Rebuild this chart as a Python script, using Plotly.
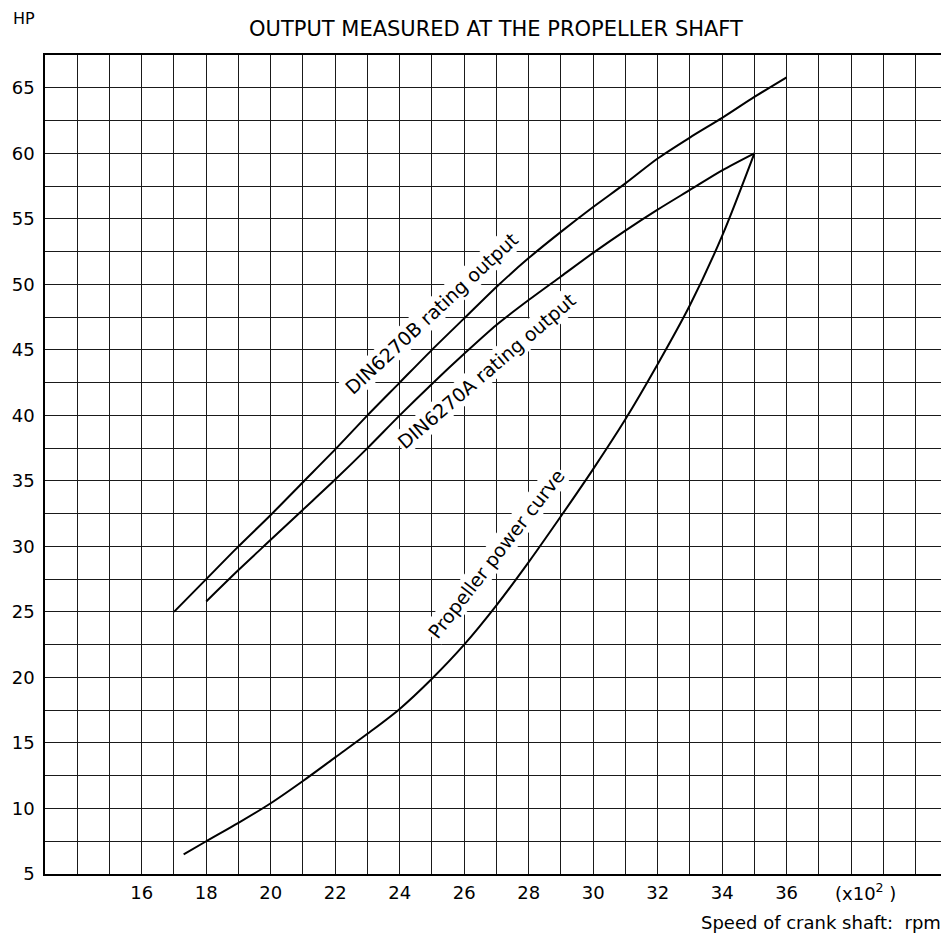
import plotly.graph_objects as go

# ---- data ----
din_b_rpm = [17, 18, 19, 20, 21, 22, 23, 24, 25, 26, 27, 28, 29, 30, 31, 32, 33, 34, 35, 36]
din_b_hp = [25.0, 27.5, 30.0, 32.4, 34.9, 37.4, 40.0, 42.5, 45.0, 47.4, 49.8, 52.0, 54.0, 55.9, 57.7, 59.6, 61.2, 62.7, 64.3, 65.8]

din_a_rpm = [18, 19, 20, 21, 22, 23, 24, 25, 26, 27, 28, 29, 30, 31, 32, 33, 34, 35]
din_a_hp = [25.8, 28.2, 30.5, 32.8, 35.1, 37.5, 40.0, 42.4, 44.7, 46.9, 48.8, 50.6, 52.4, 54.1, 55.7, 57.2, 58.7, 60.0]

prop_rpm = [17.3, 18, 19, 20, 21, 22, 23, 24, 25, 26, 27, 28, 29, 30, 31, 32, 33, 34, 35]
prop_hp = [6.5, 7.5, 8.9, 10.4, 12.1, 13.9, 15.7, 17.6, 19.9, 22.5, 25.5, 28.8, 32.3, 35.9, 39.7, 43.9, 48.4, 53.7, 60.0]

x_tick_labels = [16, 18, 20, 22, 24, 26, 28, 30, 32, 34, 36]
y_tick_labels = [5, 10, 15, 20, 25, 30, 35, 40, 45, 50, 55, 60, 65]

title_text = "OUTPUT MEASURED AT THE PROPELLER SHAFT"
label_b = "DIN6270B rating output"
label_a = "DIN6270A rating output"
label_prop = "Propeller power curve"

FONT = "DejaVu Sans"
GRID = "#1a1a1a"

fig = go.Figure()
for xs, ys in [(din_b_rpm, din_b_hp), (din_a_rpm, din_a_hp), (prop_rpm, prop_hp)]:
    fig.add_trace(go.Scatter(x=xs, y=ys, mode="lines",
                             line=dict(color="black", width=2, shape="spline", smoothing=0.8),
                             showlegend=False, hoverinfo="skip"))

# page body has an 8px margin, so the figure is shifted; compensate in size/margins
fig.update_layout(
    width=941, height=931,
    margin=dict(l=37, r=4, t=47, b=65),
    paper_bgcolor="white", plot_bgcolor="white",
    font=dict(family=FONT, size=18, color="black"),
    xaxis=dict(range=[13, 40.85], tickvals=x_tick_labels,
               showgrid=True, gridcolor=GRID, gridwidth=1.2,
               minor=dict(tick0=13, dtick=1, showgrid=True, gridcolor=GRID, gridwidth=1.2),
               showline=True, linecolor="black", linewidth=1.5, mirror=True,
               ticks="", ticklabelstandoff=2, zeroline=False,
               tickfont=dict(family=FONT, size=18, color="black")),
    yaxis=dict(range=[5, 67.5], tickvals=y_tick_labels,
               showgrid=True, gridcolor=GRID, gridwidth=1.2,
               minor=dict(tick0=5, dtick=2.5, showgrid=True, gridcolor=GRID, gridwidth=1.2),
               showline=True, linecolor="black", linewidth=1.5, mirror=True,
               ticks="", ticklabelstandoff=5, zeroline=False,
               tickfont=dict(family=FONT, size=18, color="black")),
)

annotations = [
    dict(text="HP", xref="paper", yref="paper", x=-0.0378, y=1.044,
         xanchor="left", yanchor="middle", showarrow=False, font=dict(size=16)),
    dict(text=title_text, xref="paper", yref="paper", x=0.502, y=1.0317,
         xanchor="center", yanchor="middle", showarrow=False, font=dict(size=21)),
    dict(text="(x10<sup>2</sup> )", xref="x", yref="paper", x=38.46, y=-0.022,
         xanchor="center", yanchor="middle", showarrow=False, font=dict(size=18)),
    dict(text="Speed of crank shaft:  rpm", xref="paper", yref="paper", x=1.0, y=-0.0598,
         xanchor="right", yanchor="middle", showarrow=False, font=dict(size=18)),
    dict(text=label_b, x=25.0, y=47.8, textangle=-42.8, showarrow=False,
         xanchor="center", yanchor="middle", bgcolor="white", borderpad=1, font=dict(size=19)),
    dict(text=label_a, x=26.69, y=43.4, textangle=-40.6, showarrow=False,
         xanchor="center", yanchor="middle", bgcolor="white", borderpad=1, font=dict(size=19)),
    dict(text=label_prop, x=26.98, y=29.45, textangle=-52.1, showarrow=False,
         xanchor="center", yanchor="middle", bgcolor="white", borderpad=1, font=dict(size=19)),
]
fig.update_layout(annotations=annotations)

fig.write_html("out.html")
